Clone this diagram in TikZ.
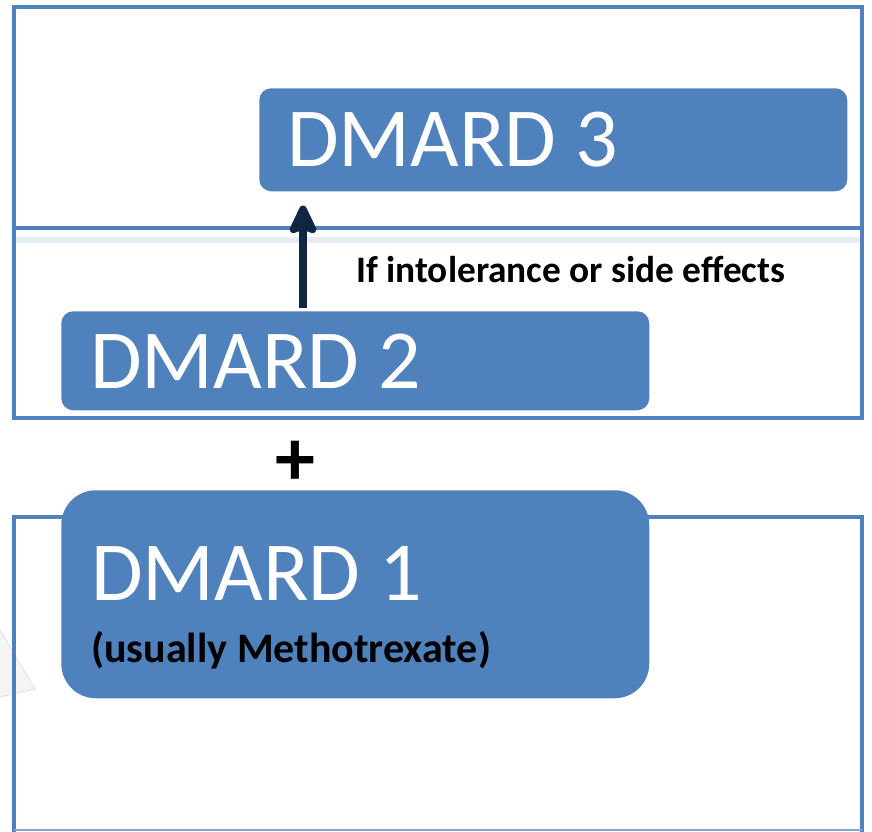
\documentclass[tikz,border=0pt]{standalone}
\usepackage{fontspec}
\setmainfont{Carlito}
\usetikzlibrary{positioning,arrows.meta}
\definecolor{boxblue}{RGB}{79,129,189}
\definecolor{arrnavy}{RGB}{17,38,66}
\definecolor{faintline}{RGB}{231,237,245}
\tikzset{
  frame/.style={draw=boxblue, line width=3.2pt},
  dmard/.style={fill=boxblue, text=white, anchor=north west, align=flush left,
    rounded corners=9pt, inner ysep=0pt, font=\fontsize{63}{66}\selectfont},
  upar/.style={draw=arrnavy, line width=5.5pt,
    -{Stealth[length=26pt,width=24pt,inset=4pt,round]}},
}
\begin{document}
\begin{tikzpicture}[x=0.75pt,y=0.75pt,yscale=-1,xscale=1]
\useasboundingbox (0,0) rectangle (872,832);

%Shape: faint triangle at left edge
\draw [draw=boxblue!30, fill=black!4] (0,630) -- (35,689) -- (0,697) ;
%Shape: top frames
\draw [frame] (14,7) rectangle (862,418) ;
\draw [faintline, line width=4pt] (16,240) -- (860,240) ;
\draw [frame] (14,228) -- (862,228) ;
%Shape: bottom frame
\draw [frame] (14,832) -- (14,517) -- (862,517) -- (862,832) ;
\draw [boxblue!70, line width=1.5pt] (14,830) -- (862,830) ;

% Boxes
\node [dmard, minimum height=77.25pt, text width=399pt, inner xsep=21pt] (dmard3) at (259,88) {DMARD 3};
\node [dmard, minimum height=74.25pt, text width=397.5pt, inner xsep=21.75pt] (dmard2) at (61,311) {DMARD 2};
\node [dmard, minimum height=156pt, text width=396pt, inner xsep=22.5pt, rounded corners=26pt] (dmard1) at (61,490)
  {\rule{0pt}{61pt}DMARD 1\\[-19.5pt]{\fontsize{31.5}{34}\selectfont\bfseries\color{black}(usually Methotrexate)}};

% Text Node
\node [anchor=west, inner sep=0pt, font=\fontsize{28}{30}\selectfont\bfseries] (ifnote) at (356,270) {If intolerance or side effects};
% Text Node
\node [inner sep=0pt, font=\fontsize{60}{60}\selectfont\bfseries] (plus) at (295,463) {+};

%Straight Lines: arrow
\coordinate (arrx) at (303,0);
\draw [upar, shorten <=2.25pt, shorten >=10.5pt] (dmard2.north -| arrx) -- (dmard3.south -| arrx) ;

\end{tikzpicture}
\end{document}
